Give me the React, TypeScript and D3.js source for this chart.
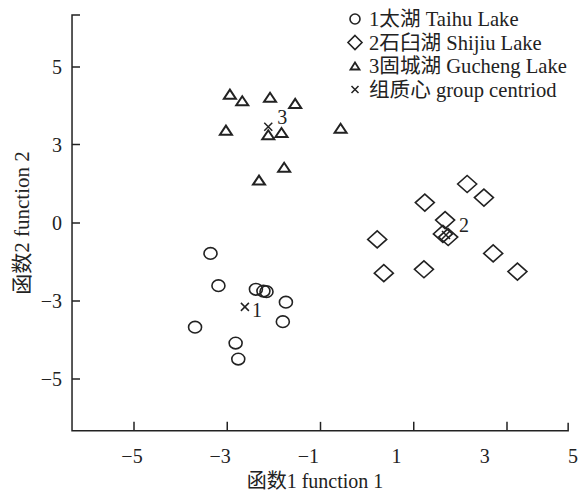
import React from "react";
import * as d3 from "d3";

// discriminant scores (function 1, function 2)
const taihu: [number, number][] = [
  [-3.22, -1.17], [-3.04, -2.41], [-2.19, -2.55], [-2.02, -2.62], [-1.95, -2.64],
  [-1.51, -3.03], [-1.58, -3.53], [-3.57, -3.67], [-2.65, -4.08], [-2.59, -4.49],
];
const shijiu: [number, number][] = [
  [2.6, 1.49], [2.98, 0.97], [1.64, 0.78], [2.1, 0.11], [2.05, -0.42], [2.17, -0.54],
  [0.56, -0.63], [0.71, -1.93], [1.62, -1.78], [3.19, -1.17], [3.74, -1.87],
];
const gucheng: [number, number][] = [
  [-2.78, 4.3], [-2.5, 4.13], [-1.87, 4.22], [-1.3, 4.06], [-2.87, 3.37],
  [-1.91, 3.25], [-1.61, 3.31], [-0.27, 3.42], [-1.55, 2.13], [-2.12, 1.64],
];
const centroids = [
  { label: "1", x: -2.44, y: -3.15 },
  { label: "2", x: 2.12, y: -0.46 },
  { label: "3", x: -1.91, y: 3.46 },
];
const xTickValues = [-5, -3, -1, 1, 3];
const xLabelValues = [-5, -3, -1, 1, 3, 5];
const yTickValues = [-5, -3, 0, 3, 5];
const legendLabels = ["1太湖 Taihu Lake", "2石臼湖 Shijiu Lake", "3固城湖 Gucheng Lake", "组质心 group centriod"];

const W = 578, H = 492;
const font = "'Liberation Serif', 'Times New Roman', 'Noto Sans CJK SC', serif";
const ink = "#222";
const labelOffset: Record<string, [number, number]> = { "1": [12, 3], "2": [18, -10], "3": [14, -10] };

const fmt = (v: number) => (v < 0 ? "\u2212" + Math.abs(v) : String(v));

const diamond = (cx: number, cy: number, w: number, h: number) =>
  `M${cx},${cy - h}L${cx + w},${cy}L${cx},${cy + h}L${cx - w},${cy}Z`;
const triangle = (cx: number, cy: number, w: number, h: number) =>
  `M${cx},${cy - h}L${cx + w},${cy + h}L${cx - w},${cy + h}Z`;
const cross = (cx: number, cy: number, s: number) =>
  `M${cx - s},${cy - s}L${cx + s},${cy + s}M${cx - s},${cy + s}L${cx + s},${cy - s}`;

export default function App() {
  const x = d3.scaleLinear().domain([-5, 5]).range([132, 573]);
  const xTick = d3.scaleLinear().domain([-5, 3]).range([134, 507]);
  const y = d3.scaleLinear().domain([-5, -3, 0, 3, 5]).range([379, 301, 223, 144.5, 67]);

  const x0 = x(-6.36), x1 = x(4.89);
  const yTop = y(6.34), yBot = y(-6.33);

  return (
    <svg width={W} height={H} style={{ position: "absolute", left: 0, top: 0, background: "#fff" }}
      fontFamily={font}>
      {/* axes */}
      <path d={`M${x0 + 8},${yTop}H${x0}V${yBot}H${x1}V${yBot - 8}`} fill="none" stroke={ink} strokeWidth={1.5} />
      {yTickValues.map(v => (
        <g key={"y" + v}>
          <line x1={x0} x2={x0 + 8} y1={y(v)} y2={y(v)} stroke={ink} strokeWidth={1.5} />
          <text x={x0 - 10} y={y(v)} dy="0.35em" textAnchor="end" fontSize={20} fill={ink}>{fmt(v)}</text>
        </g>
      ))}
      {xTickValues.map(v => (
        <line key={"xt" + v} x1={xTick(v)} x2={xTick(v)} y1={yBot} y2={yBot - 9} stroke={ink} strokeWidth={1.5} />
      ))}
      {xLabelValues.map(v => (
        <text key={"xl" + v} x={x(v)} y={463} textAnchor="middle" fontSize={20} fill={ink}>{fmt(v)}</text>
      ))}
      <text x={315} y={488} textAnchor="middle" fontSize={20} fill={ink}>函数1 function 1</text>
      <text transform={`translate(29,${(yTop + yBot) / 2}) rotate(-90)`} textAnchor="middle" fontSize={21} fill={ink}>
        函数2 function 2
      </text>

      {/* points */}
      {taihu.map((d, i) => (
        <ellipse key={"t" + i} cx={x(d[0])} cy={y(d[1])} rx={6.5} ry={5.8} fill="none" stroke={ink} strokeWidth={1.6} />
      ))}
      {shijiu.map((d, i) => (
        <path key={"s" + i} d={diamond(x(d[0]), y(d[1]), 9.5, 8.5)} fill="none" stroke={ink} strokeWidth={1.6} />
      ))}
      {gucheng.map((d, i) => (
        <path key={"g" + i} d={triangle(x(d[0]), y(d[1]), 6, 4.5)} fill="none" stroke={ink} strokeWidth={2} />
      ))}
      {centroids.map(c => (
        <g key={"c" + c.label}>
          <path d={cross(x(c.x), y(c.y), 4)} stroke={ink} strokeWidth={1.5} />
          <text x={x(c.x) + labelOffset[c.label][0]} y={y(c.y) + labelOffset[c.label][1]} dy="0.35em"
            textAnchor="middle" fontSize={20} fill={ink}>{c.label}</text>
        </g>
      ))}

      {/* legend */}
      {legendLabels.map((t, i) => {
        const ly = 19 + i * 23.5;
        const lx = 355;
        return (
          <g key={"l" + i}>
            {i === 0 && <circle cx={lx} cy={ly} r={5} fill="none" stroke={ink} strokeWidth={1.6} />}
            {i === 1 && <path d={diamond(lx, ly, 7, 7)} fill="none" stroke={ink} strokeWidth={1.6} />}
            {i === 2 && <path d={triangle(lx, ly, 4.5, 3.5)} fill="none" stroke={ink} strokeWidth={1.8} />}
            {i === 3 && <path d={cross(lx, ly, 3.5)} stroke={ink} strokeWidth={1.5} />}
            <text x={369} y={ly} dy="0.35em" fontSize={20.6} fill={ink}>{t}</text>
          </g>
        );
      })}
    </svg>
  );
}
